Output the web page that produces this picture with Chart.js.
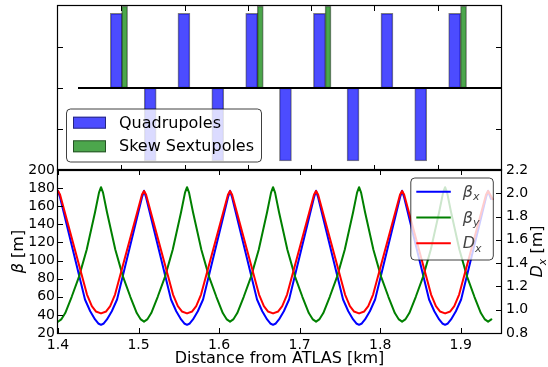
<!DOCTYPE html>
<html><head><meta charset="utf-8">
<script src="https://cdn.jsdelivr.net/npm/chart.js@4.4.1/dist/chart.umd.min.js"></script>
<style>
html,body{margin:0;padding:0;background:#fff;}
#wrap{position:relative;width:548px;height:367px;overflow:hidden;background:#fff;}
canvas{position:absolute;left:0;top:0;}
</style></head><body>
<div id="wrap"><canvas id="bot" width="548" height="367"></canvas><canvas id="top" width="548" height="367"></canvas></div>
<script>
// ---------- top panel: lattice elements ----------
const quadS = [1.4922, 1.5457, 1.5990, 1.6525, 1.7061, 1.7594, 1.8131, 1.8662, 1.9198, 1.9732, 2.0268];
const quadK = [0.91, -0.89, 0.91, -0.89, 0.91, -0.89, 0.91, -0.89, 0.91, -0.89, 0.91];
const sextS = [1.5052, 1.7196, 1.8267, 2.0408];
const sextK = [1.0, 1.0, 1.0, 1.0];
const refLineS = [1.4316, 2.1];
const refLineV = [0, 0];
const topXTicks = [1.5, 1.6, 1.7, 1.8, 1.9, 2.0];
const topYTicks = [-0.5, 0, 0.5];

// ---------- bottom panel: optics ----------
const sBetaX = [1.4000,1.4025,1.4335,1.4400,1.4460,1.4500,1.4534,1.4568,1.4608,1.4668,1.4733,1.5043,1.5068,
  1.5093,1.5403,1.5468,1.5528,1.5568,1.5602,1.5636,1.5676,1.5736,1.5801,1.6111,1.6136,
  1.6161,1.6471,1.6536,1.6596,1.6636,1.6670,1.6704,1.6744,1.6804,1.6869,1.7179,1.7204,
  1.7229,1.7539,1.7604,1.7664,1.7704,1.7738,1.7772,1.7812,1.7872,1.7937,1.8247,1.8272,
  1.8297,1.8607,1.8672,1.8732,1.8772,1.8806,1.8840,1.8880,1.8940,1.9005,1.9315,1.9340,1.9375];
const betaX = [177,170,57,44,35,30.5,29,30.5,35,44,57,170,177,
  170,57,44,35,30.5,29,30.5,35,44,57,170,177,
  170,57,44,35,30.5,29,30.5,35,44,57,170,177,
  170,57,44,35,30.5,29,30.5,35,44,57,170,177,
  170,57,44,35,30.5,29,30.5,35,44,57,170,177,168];

const sBetaY = [1.4000,1.4040,1.4090,1.4170,1.4260,1.4356,1.4459,1.4509,1.4534,1.4559,1.4609,1.4712,1.4808,1.4898,1.4978,1.5028,1.5068,
  1.5108,1.5158,1.5238,1.5328,1.5424,1.5527,1.5577,1.5602,1.5627,1.5677,1.5780,1.5876,1.5966,1.6046,1.6096,1.6136,
  1.6176,1.6226,1.6306,1.6396,1.6492,1.6595,1.6645,1.6670,1.6695,1.6745,1.6848,1.6944,1.7034,1.7114,1.7164,1.7204,
  1.7244,1.7294,1.7374,1.7464,1.7560,1.7663,1.7713,1.7738,1.7763,1.7813,1.7916,1.8012,1.8102,1.8182,1.8232,1.8272,
  1.8312,1.8362,1.8442,1.8532,1.8628,1.8731,1.8781,1.8806,1.8831,1.8881,1.8984,1.9080,1.9170,1.9250,1.9300,1.9340,1.9380];
const betaY = [32.5,35,42,60,82,112,153,175,181,175,153,112,82,60,42,35,32.5,
  35,42,60,82,112,153,175,181,175,153,112,82,60,42,35,32.5,
  35,42,60,82,112,153,175,181,175,153,112,82,60,42,35,32.5,
  35,42,60,82,112,153,175,181,175,153,112,82,60,42,35,32.5,
  35,42,60,82,112,153,175,181,175,153,112,82,60,42,35,32.5,35];

const sDx = [1.4000,1.4025,1.4360,1.4420,1.4470,1.4534,1.4598,1.4648,1.4708,1.5043,1.5068,
  1.5093,1.5428,1.5488,1.5538,1.5602,1.5666,1.5716,1.5776,1.6111,1.6136,
  1.6161,1.6496,1.6556,1.6606,1.6670,1.6734,1.6784,1.6844,1.7179,1.7204,
  1.7229,1.7564,1.7624,1.7674,1.7738,1.7802,1.7852,1.7912,1.8247,1.8272,
  1.8297,1.8632,1.8692,1.8742,1.8806,1.8870,1.8920,1.8980,1.9315,1.9340,1.9365,1.9395];
const dispX = [2.02,1.99,1.13,1.03,0.985,0.968,0.985,1.03,1.13,1.99,2.02,
  1.99,1.13,1.03,0.985,0.968,0.985,1.03,1.13,1.99,2.02,
  1.99,1.13,1.03,0.985,0.968,0.985,1.03,1.13,1.99,2.02,
  1.99,1.13,1.03,0.985,0.968,0.985,1.03,1.13,1.99,2.02,
  1.99,1.13,1.03,0.985,0.968,0.985,1.03,1.13,1.99,2.02,1.99,1.95];

const xTicks = [1.4, 1.5, 1.6, 1.7, 1.8, 1.9];
const betaTicks = [20, 40, 60, 80, 100, 120, 140, 160, 180, 200];
const dispTicks = [0.8, 1.0, 1.2, 1.4, 1.6, 1.8, 2.0, 2.2];

const FONT = '"DejaVu Sans", "Liberation Sans", sans-serif';
const pts = (xs, ys) => xs.map((x, i) => ({x: x, y: ys[i]}));

// frame + inward tick marks
const frameTicks = {
  id: 'frameTicks',
  afterDraw(chart, args, o) {
    const ctx = chart.ctx, a = chart.chartArea, L = 5;
    ctx.save();
    ctx.strokeStyle = '#000';
    ctx.lineWidth = 1;
    const ln = (x1, y1, x2, y2) => { ctx.beginPath(); ctx.moveTo(x1, y1); ctx.lineTo(x2, y2); ctx.stroke(); };
    const xs = chart.scales.x;
    o.xTicks.forEach(v => {
      const p = Math.round(xs.getPixelForValue(v)) + 0.5;
      ln(p, a.bottom, p, a.bottom - L);
      ln(p, a.top, p, a.top + L);
    });
    const yl = chart.scales[o.leftId];
    o.leftTicks.forEach(v => {
      const p = Math.round(yl.getPixelForValue(v)) + 0.5;
      ln(a.left, p, a.left + L, p);
      if (!o.rightId) ln(a.right, p, a.right - L, p);
    });
    if (o.rightId) {
      const yr = chart.scales[o.rightId];
      o.rightTicks.forEach(v => {
        const p = Math.round(yr.getPixelForValue(v)) + 0.5;
        ln(a.right, p, a.right - L, p);
      });
    }
    ctx.lineWidth = 1.2;
    ctx.strokeRect(Math.round(a.left) - 0.5, Math.round(a.top) - 0.5,
      Math.round(a.right - a.left) + 1, Math.round(a.bottom - a.top) + 1);
    ctx.restore();
  }
};

function roundRect(ctx, x, y, w, h, r) {
  ctx.beginPath();
  ctx.moveTo(x + r, y);
  ctx.lineTo(x + w - r, y); ctx.quadraticCurveTo(x + w, y, x + w, y + r);
  ctx.lineTo(x + w, y + h - r); ctx.quadraticCurveTo(x + w, y + h, x + w - r, y + h);
  ctx.lineTo(x + r, y + h); ctx.quadraticCurveTo(x, y + h, x, y + h - r);
  ctx.lineTo(x, y + r); ctx.quadraticCurveTo(x, y, x + r, y);
  ctx.closePath();
}

// legend of the top panel (patches)
const patchLegend = {
  id: 'patchLegend',
  afterDatasetsDraw(chart) {
    const ctx = chart.ctx, a = chart.chartArea;
    const items = chart.data.datasets.filter(d => d.type !== 'line');
    const bx = a.left + 8.5, bw = 195, bh = 53, by = a.bottom - 8 - bh;
    ctx.save();
    roundRect(ctx, bx, by, bw, bh, 4);
    ctx.fillStyle = 'rgba(255,255,255,0.8)';
    ctx.fill();
    ctx.strokeStyle = 'rgba(0,0,0,0.75)';
    ctx.lineWidth = 1;
    ctx.stroke();
    ctx.font = '16px ' + FONT;
    ctx.textBaseline = 'middle';
    items.forEach((d, i) => {
      const cy = by + 13.7 + i * 23.6;
      ctx.fillStyle = d.backgroundColor;
      ctx.fillRect(bx + 6.5, cy - 6, 33, 12);
      ctx.strokeStyle = d.borderColor;
      ctx.strokeRect(bx + 6.5 + 0.5, cy - 6 + 0.5, 32, 11);
      ctx.fillStyle = '#000';
      ctx.fillText(d.label, bx + 52.5, cy + 1);
    });
    ctx.restore();
  }
};

function drawMath(ctx, text, x, y, size, color) {
  // text like "β_x" : main part italic, subscript italic smaller
  const [main, sub] = text.split('_');
  ctx.fillStyle = color;
  ctx.textBaseline = 'alphabetic';
  ctx.font = 'italic ' + size + 'px ' + FONT;
  ctx.fillText(main, x, y);
  let w = ctx.measureText(main).width;
  if (sub) {
    ctx.font = 'italic ' + Math.round(size * 0.7) + 'px ' + FONT;
    ctx.fillText(sub, x + w, y + size * 0.22);
    w += ctx.measureText(sub).width;
  }
  return w;
}

// legend of the bottom panel (lines)
const lineLegend = {
  id: 'lineLegend',
  afterDatasetsDraw(chart) {
    const ctx = chart.ctx, a = chart.chartArea;
    const items = chart.data.datasets.slice().sort((p, q) => q.order - p.order);
    const bw = 82.5, bh = 82, bx = a.right - 7.7 - bw, by = a.top + 8;
    ctx.save();
    roundRect(ctx, bx, by, bw, bh, 4);
    ctx.fillStyle = 'rgba(255,255,255,0.8)';
    ctx.fill();
    ctx.strokeStyle = 'rgba(0,0,0,0.75)';
    ctx.lineWidth = 1;
    ctx.stroke();
    items.forEach((d, i) => {
      const cy = by + 13.7 + i * 25.8;
      ctx.strokeStyle = d.borderColor;
      ctx.lineWidth = 2;
      ctx.beginPath(); ctx.moveTo(bx + 5.5, cy); ctx.lineTo(bx + 40, cy); ctx.stroke();
      drawMath(ctx, d.label, bx + 52, cy + 5, 16, '#444');
    });
    ctx.restore();
  }
};

// rotated y-axis titles with math parts
const yTitles = {
  id: 'yTitles',
  afterDraw(chart) {
    const ctx = chart.ctx, a = chart.chartArea;
    const cy = (a.top + a.bottom) / 2;
    const put = (cx, parts) => {
      ctx.save();
      ctx.translate(cx, cy);
      ctx.rotate(-Math.PI / 2);
      let total = 0;
      parts.forEach(p => {
        if (p.math) {
          const [m, s] = p.t.split('_');
          ctx.font = 'italic 16px ' + FONT; total += ctx.measureText(m).width;
          if (s) { ctx.font = 'italic 11px ' + FONT; total += ctx.measureText(s).width; }
        } else { ctx.font = '16px ' + FONT; total += ctx.measureText(p.t).width; }
      });
      let x = -total / 2;
      parts.forEach(p => {
        if (p.math) x += drawMath(ctx, p.t, x, 6, 16, '#000');
        else { ctx.font = '16px ' + FONT; ctx.fillStyle = '#000'; ctx.textBaseline = 'alphabetic'; ctx.fillText(p.t, x, 6); x += ctx.measureText(p.t).width; }
      });
      ctx.restore();
    };
    put(17, [{t: 'β', math: true}, {t: ' [m]'}]);
    put(536, [{t: 'D_x', math: true}, {t: ' [m]'}]);
  }
};

const tickFont = {family: FONT, size: 14};

new Chart(document.getElementById('bot'), {
  type: 'line',
  data: {datasets: [
    {label: 'D_x', yAxisID: 'yR', data: pts(sDx, dispX), borderColor: '#ff0000', order: 0},
    {label: 'β_y', yAxisID: 'yL', data: pts(sBetaY, betaY), borderColor: '#008000', order: 1},
    {label: 'β_x', yAxisID: 'yL', data: pts(sBetaX, betaX), borderColor: '#0000ff', order: 2}
  ]},
  options: {
    responsive: false, animation: false, devicePixelRatio: 1,
    layout: {padding: {top: 170, left: 0, right: 0, bottom: 0}},
    elements: {line: {borderWidth: 2, tension: 0, fill: false, borderJoinStyle: 'round', borderCapStyle: 'round'}, point: {radius: 0}},
    plugins: {
      legend: {display: false}, tooltip: {enabled: false},
      frameTicks: {xTicks: xTicks, leftId: 'yL', leftTicks: betaTicks, rightId: 'yR', rightTicks: dispTicks}
    },
    scales: {
      x: {type: 'linear', min: 1.4, max: 1.95,
        afterBuildTicks: s => { s.ticks = xTicks.map(v => ({value: v})); },
        afterFit: s => { s.height = 34; },
        grid: {display: false, drawTicks: false}, border: {display: false},
        ticks: {font: tickFont, color: '#000', padding: 4, maxRotation: 0, autoSkip: false, callback: v => v.toFixed(1)},
        title: {display: true, text: 'Distance from ATLAS [km]', font: {family: FONT, size: 16, lineHeight: 1.0}, color: '#000', padding: 0}},
      yL: {type: 'linear', position: 'left', min: 20, max: 200,
        afterBuildTicks: s => { s.ticks = betaTicks.map(v => ({value: v})); },
        afterFit: s => { s.width = 58; },
        grid: {display: false, drawTicks: false}, border: {display: false},
        ticks: {font: tickFont, color: '#000', padding: 3, autoSkip: false, callback: v => String(v)}},
      yR: {type: 'linear', position: 'right', min: 0.8, max: 2.2,
        afterBuildTicks: s => { s.ticks = dispTicks.map(v => ({value: v})); },
        afterFit: s => { s.width = 47; },
        grid: {display: false, drawTicks: false}, border: {display: false},
        ticks: {font: tickFont, color: '#000', padding: 5, autoSkip: false, callback: v => v.toFixed(1)}}
    }
  },
  plugins: [lineLegend, frameTicks, yTitles]
});

new Chart(document.getElementById('top'), {
  type: 'bar',
  data: {datasets: [
    {type: 'line', label: 'axis', data: pts(refLineS, refLineV), borderColor: '#000', borderWidth: 2, pointRadius: 0, order: 0},
    {label: 'Quadrupoles', data: pts(quadS, quadK), backgroundColor: 'rgba(0,0,255,0.7)', borderColor: 'rgba(0,0,0,0.5)',
      borderWidth: 1, borderSkipped: false, barThickness: 12, grouped: false, order: 2},
    {label: 'Skew Sextupoles', data: pts(sextS, sextK), backgroundColor: 'rgba(0,128,0,0.7)', borderColor: 'rgba(0,0,0,0.5)',
      borderWidth: 1, borderSkipped: false, barThickness: 6, grouped: false, order: 1}
  ]},
  options: {
    responsive: false, animation: false, devicePixelRatio: 1,
    layout: {padding: {top: 6, left: 58, right: 47, bottom: 197}},
    plugins: {
      legend: {display: false}, tooltip: {enabled: false},
      frameTicks: {xTicks: topXTicks, leftId: 'y', leftTicks: topYTicks}
    },
    scales: {
      x: {type: 'linear', display: false, min: 1.4, max: 2.1, offset: false},
      y: {type: 'linear', display: false, min: -1, max: 1}
    }
  },
  plugins: [patchLegend, frameTicks]
});
</script>
</body></html>
